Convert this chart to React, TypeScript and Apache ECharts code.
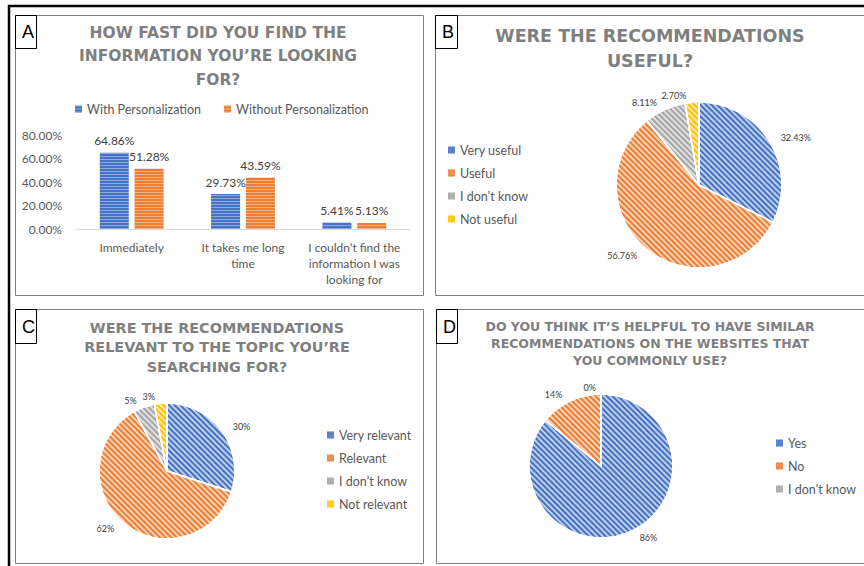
import React, { useEffect, useRef } from 'react';
import * as echarts from 'echarts';

// ---- Panel A data ----
const barCategories = ['Immediately', 'It takes me long\ntime', 'I couldn\u2019t find the\ninformation I was\nlooking for'];
const barSeriesNames = ['With Personalization', 'Without Personalization'];
const withPersonalization = [64.86, 29.73, 5.41];
const withoutPersonalization = [51.28, 43.59, 5.13];
const barAxisMax = 80;
const barAxisStep = 20;

// ---- Panel B data ----
const usefulNames = ['Very useful', 'Useful', 'I don\u2019t know', 'Not useful'];
const usefulValues = [32.43, 56.76, 8.11, 2.7];

// ---- Panel C data ----
const relevantNames = ['Very relevant', 'Relevant', 'I don\u2019t know', 'Not relevant'];
const relevantValues = [30, 62, 5, 3];

// ---- Panel D data ----
const helpfulNames = ['Yes', 'No', "I don't know"];
const helpfulValues = [86, 14, 0];

// ---- Titles ----
const titleA = 'HOW FAST DID YOU FIND THE\nINFORMATION YOU\u2019RE LOOKING\nFOR?';
const titleB = 'WERE THE RECOMMENDATIONS\nUSEFUL?';
const titleC = 'WERE THE RECOMMENDATIONS\nRELEVANT TO THE TOPIC YOU\u2019RE\nSEARCHING FOR?';
const titleD = 'DO YOU THINK IT\u2019S HELPFUL TO HAVE SIMILAR\nRECOMMENDATIONS ON THE WEBSITES THAT\nYOU COMMONLY USE?';
const panelLetters = ['A', 'B', 'C', 'D'];

const palette = ['#4472C4', '#ED7D31', '#A5A5A5', '#FFC000'];
const FONT = 'Lato';
const TITLE_FONT = 'DejaVu Sans';
const TITLE_COLOR = '#7f7f7f';
const TEXT_COLOR = '#595959';
const LABEL_COLOR = '#404040';

const barDecal = {
  symbol: 'rect',
  symbolSize: 1,
  color: 'rgba(255,255,255,0.4)',
  dashArrayX: [1, 0],
  dashArrayY: [1, 2],
  rotation: 0,
};

const pieDecal = {
  symbol: 'rect',
  symbolSize: 1,
  color: 'rgba(255,255,255,0.65)',
  dashArrayX: [1, 0],
  dashArrayY: [1.5, 1.5],
  rotation: Math.PI / 4,
};

const legendIconDecal = {
  symbol: 'rect',
  symbolSize: 1,
  color: 'rgba(255,255,255,0.25)',
  dashArrayX: [1, 0],
  dashArrayY: [1, 1],
  rotation: 0,
};

function titleOpt(text: string, cx: number, top: number, size: number, lh: number) {
  return {
    text,
    left: cx,
    top,
    textAlign: 'center',
    padding: 0,
    textStyle: {
      fontFamily: TITLE_FONT,
      fontWeight: 'bold',
      fontSize: size,
      lineHeight: lh,
      color: TITLE_COLOR,
    },
  };
}

function pieSeries(
  names: string[],
  values: number[],
  center: number[],
  radius: number,
  digits: number
) {
  return {
    type: 'pie',
    center,
    radius,
    startAngle: 90,
    clockwise: true,
    avoidLabelOverlap: false,
    emphasis: { disabled: true },
    data: names.map((n, i) => ({ name: n, value: values[i], itemStyle: { color: palette[i] } })),
    itemStyle: { borderColor: '#ffffff', borderWidth: 1.5, decal: pieDecal },
    label: {
      show: true,
      position: 'outside',
      distanceToLabelLine: 5,
      formatter: (p: any) => Number(p.value).toFixed(digits) + '%',
      fontFamily: FONT,
      fontSize: 9,
      color: LABEL_COLOR,
    },
    labelLine: { show: false, length: 7, length2: 0 },
  };
}

function legendOpt(names: string[], left: number, top: number, vertical: boolean, gap: number) {
  const opt: any = {
    data: names,
    orient: vertical ? 'vertical' : 'horizontal',
    left,
    top,
    padding: 0,
    icon: 'rect',
    itemWidth: 7,
    itemHeight: 7,
    itemGap: gap,
    selectedMode: false,
    textStyle: { fontFamily: FONT, fontSize: 12.5, color: TEXT_COLOR, lineHeight: vertical ? 16 : 14 },
  };
  if (vertical) {
    opt.itemStyle = { decal: legendIconDecal, borderWidth: 0 };
  }
  return opt;
}

function rect(x: number, y: number, w: number, h: number, stroke: string, lw: number) {
  return {
    type: 'rect',
    silent: true,
    shape: { x, y, width: w, height: h },
    style: { fill: 'none', stroke, lineWidth: lw },
  };
}

function letter(t: string, x: number, y: number) {
  return {
    type: 'text',
    silent: true,
    x,
    y,
    style: { text: t, fontSize: 18, fontFamily: 'Liberation Sans', fill: '#000000' },
  };
}

export default function App() {
  const ref = useRef<HTMLDivElement>(null);

  useEffect(() => {
    if (!ref.current) return;
    const chart = echarts.init(ref.current, undefined, { renderer: 'svg' });

    const option: any = {
      animation: false,
      backgroundColor: '#ffffff',
      title: [
        titleOpt(titleA, 218, 21, 15.5, 23.5),
        titleOpt(titleB, 650, 23.5, 17.5, 25),
        titleOpt(titleC, 217, 318, 14.4, 19.5),
        titleOpt(titleD, 650, 317.5, 12.5, 17),
      ],
      legend: [
        legendOpt(barSeriesNames, 75, 102, false, 23),
        legendOpt(usefulNames, 448, 142, true, 7),
        legendOpt(relevantNames, 327, 427, true, 7),
        legendOpt(helpfulNames, 776, 435, true, 7),
      ],
      grid: [{ left: 76, right: 454, top: 135, bottom: 337, containLabel: false, outerBoundsMode: 'none' }],
      xAxis: [
        {
          type: 'category',
          gridIndex: 0,
          data: barCategories,
          axisTick: { show: false },
          axisLine: { lineStyle: { color: '#d9d9d9', width: 1 } },
          axisLabel: {
            interval: 0,
            margin: 10,
            fontFamily: FONT,
            fontSize: 12,
            lineHeight: 16,
            color: TEXT_COLOR,
          },
        },
      ],
      yAxis: [
        {
          type: 'value',
          gridIndex: 0,
          min: 0,
          max: barAxisMax,
          interval: barAxisStep,
          splitLine: { show: false },
          axisLine: { show: false },
          axisTick: { show: false },
          axisLabel: {
            margin: 14,
            fontFamily: FONT,
            fontSize: 12,
            color: TEXT_COLOR,
            formatter: (v: number) => v.toFixed(2) + '%',
          },
        },
      ],
      series: [
        {
          type: 'bar',
          name: barSeriesNames[0],
          data: withPersonalization,
          barWidth: 29,
          barGap: '20%',
          emphasis: { disabled: true },
          itemStyle: { color: palette[0], decal: barDecal },
          label: {
            show: true,
            position: 'top',
            distance: 6,
            formatter: (p: any) => Number(p.value).toFixed(2) + '%',
            fontFamily: FONT,
            fontSize: 12,
            color: LABEL_COLOR,
          },
        },
        {
          type: 'bar',
          name: barSeriesNames[1],
          data: withoutPersonalization,
          barWidth: 29,
          barGap: '20%',
          emphasis: { disabled: true },
          itemStyle: { color: palette[1], decal: barDecal },
          label: {
            show: true,
            position: 'top',
            distance: 6,
            formatter: (p: any) => Number(p.value).toFixed(2) + '%',
            fontFamily: FONT,
            fontSize: 12,
            color: LABEL_COLOR,
          },
        },
        pieSeries(usefulNames, usefulValues, [699, 185], 83, 2),
        pieSeries(relevantNames, relevantValues, [167, 471], 68, 0),
        pieSeries(helpfulNames, helpfulValues, [601, 466], 72, 0),
      ],
      graphic: [
        rect(9, 6, 900, 600, '#000000', 2.5),
        rect(15.5, 15.5, 408, 280, '#7f7f7f', 1),
        rect(435.5, 15.5, 440, 280, '#7f7f7f', 1),
        rect(15.5, 309.5, 408, 254, '#7f7f7f', 1),
        rect(436.5, 309.5, 440, 254, '#7f7f7f', 1),
        rect(15.5, 15.5, 21, 33, '#000000', 1),
        rect(435.5, 15.5, 22, 33, '#000000', 1),
        rect(15.5, 309.5, 21, 34, '#000000', 1),
        rect(436.5, 309.5, 21, 34, '#000000', 1),
        letter(panelLetters[0], 22, 22.5),
        letter(panelLetters[1], 442, 22.5),
        letter(panelLetters[2], 22, 317.5),
        letter(panelLetters[3], 443, 317.5),
      ],
    };

    chart.setOption(option);
    return () => {
      chart.dispose();
    };
  }, []);

  return (
    <div
      ref={ref}
      style={{ position: 'fixed', left: 0, top: 0, width: 864, height: 566, background: '#ffffff' }}
    />
  );
}
